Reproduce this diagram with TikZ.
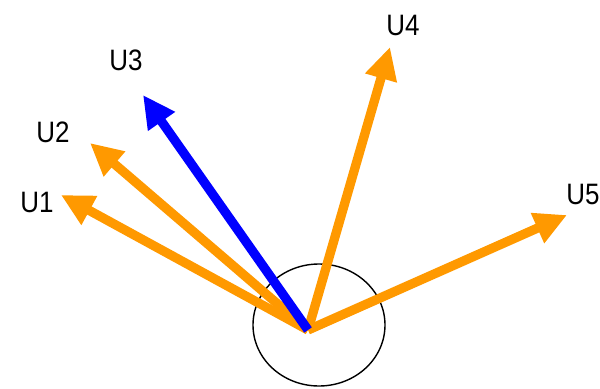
\documentclass[tikz,border=0pt]{standalone}
\usepackage{fontspec}
\setmainfont{Liberation Sans}
\usetikzlibrary{arrows.meta}

\definecolor{vecorange}{RGB}{255,153,0}
\definecolor{vecblue}{RGB}{0,0,255}

\begin{document}
\begin{tikzpicture}[x=0.025cm,y=-0.025cm,
                    vec/.style={-{Triangle[length=23pt,width=22pt]},line width=6.6pt,
                                vecorange},
                    lbl/.style={font=\fontsize{21}{21}\selectfont,inner sep=0pt,
                                xscale=0.88}]
  \useasboundingbox (0,0) rectangle (600,389);

  % unit circle round the common origin
  \draw[line width=1pt] (319,325) ellipse (66 and 61);

  \coordinate (O)  at (308,330);
  \coordinate (T1) at (61,195);
  \coordinate (T2) at (90,143);
  \coordinate (T3) at (143,95);
  \coordinate (T4) at (390,47);
  \coordinate (T5) at (567,215);

  \node[lbl] (L1) at (37,202)  {U1};
  \node[lbl] (L2) at (53,132)  {U2};
  \node[lbl] (L3) at (126,60)  {U3};
  \node[lbl] (L4) at (403,25)  {U4};
  \node[lbl] (L5) at (583,194) {U5};

  \draw[vec] (O) -- (T1);
  \draw[vec] (O) -- (T2);
  \draw[vec] (O) -- (T4);
  \draw[vec] (O) -- (T5);
  \draw[vec,vecblue] (O) -- (T3);
\end{tikzpicture}
\end{document}
